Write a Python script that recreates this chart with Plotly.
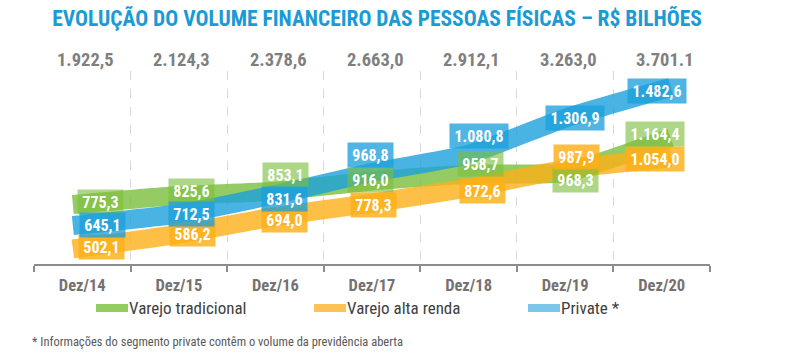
import plotly.graph_objects as go

# ---- data ----
categories = ["Dez/14", "Dez/15", "Dez/16", "Dez/17", "Dez/18", "Dez/19", "Dez/20"]
varejo_tradicional = [775.3, 825.6, 853.1, 916.0, 958.7, 968.3, 1164.4]
varejo_alta_renda = [502.1, 586.2, 694.0, 778.3, 872.6, 987.9, 1054.0]
private = [645.1, 712.5, 831.6, 968.8, 1080.8, 1306.9, 1482.6]
totais = ["1.922,5", "2.124,3", "2.378,6", "2.663,0", "2.912,1", "3.263,0", "3.701.1"]
series_names = ["Varejo tradicional", "Varejo alta renda", "Private *"]

def fmt(v):
    s = f"{v:,.1f}"
    return s.replace(",", "X").replace(".", ",").replace("X", ".")

W, H = 810, 355
L, R, T, B = 34, 100, 71, 91
PW, PH = W - L - R, H - T - B

def px2x(px):
    return (px - L) / PW

def px2y(py):
    return (H - B - py) / PH

FONT = "Liberation Sans Narrow, Roboto Condensed, Roboto, sans-serif"

line_cols = ["rgba(122,190,60,0.8)", "rgba(252,175,23,0.8)", "rgba(28,160,220,0.8)"]
box_cols = ["rgba(122,190,60,0.62)", "rgba(252,175,23,0.82)", "rgba(28,160,220,0.78)"]
legend_cols = ["#92CD62", "#FDC256", "#7DC6EB"]

# label offsets (px right, px up) per series/point
offsets = [
    [(18, 2), (12.5, 5), (10, 16.5), (-2, 1.5), (11.5, 10), (10, -7), (-7, 7)],
    [(19.5, 1), (13.5, 0), (9.5, -3), (1, -1.5), (13.5, -3.5), (11, 12.5), (-7, 0)],
    [(20, 0), (12.5, 0), (9, -4.5), (-2, 17.6), (10.5, 18.5), (9.5, 0), (-4.5, -1.5)],
]

all_series = [varejo_tradicional, varejo_alta_renda, private]

fig = go.Figure()
for name, vals, col in zip(series_names, all_series, line_cols):
    fig.add_trace(go.Scatter(
        x=categories, y=vals, name=name, mode="lines",
        line=dict(color=col, width=19, shape="spline", smoothing=0.5),
        hoverinfo="skip", showlegend=False,
    ))

annotations = []
for si, vals in enumerate(all_series):
    for i, v in enumerate(vals):
        dx, up = offsets[si][i]
        txt = fmt(v)
        annotations.append(dict(
            x=categories[i], y=v, xref="x", yref="y", text=txt, showarrow=False,
            xshift=dx, yshift=up, bgcolor=box_cols[si], borderpad=3,
            width=39 if len(txt) <= 5 else 52, height=18,
            font=dict(family=FONT, size=16, color="white", weight="bold"),
        ))

# totals row
for i, t in enumerate(totais):
    annotations.append(dict(
        x=categories[i], y=px2y(60), xref="x", yref="paper", text=t, showarrow=False,
        yanchor="middle", xshift=3,
        font=dict(family=FONT, size=18.5, color="#7F7F7F", weight="bold"),
    ))

# manual legend
leg_x = [96, 314, 528]
shapes = []
for lx, name, col in zip(leg_x, series_names, legend_cols):
    shapes.append(dict(type="rect", xref="paper", yref="paper",
                       x0=px2x(lx), x1=px2x(lx + 32), y0=px2y(312), y1=px2y(304),
                       fillcolor=col, line=dict(width=0)))
    annotations.append(dict(x=px2x(lx + 31), y=px2y(308), xref="paper", yref="paper",
                            text=name, showarrow=False, xanchor="left", yanchor="middle",
                            font=dict(family=FONT, size=17, color="#404040")))

# footnote
annotations.append(dict(x=px2x(30), y=px2y(341), xref="paper", yref="paper",
                        text="* Informações do segmento private contêm o volume da previdência aberta",
                        showarrow=False, xanchor="left", yanchor="middle",
                        font=dict(family=FONT, size=12.5, color="#595959")))

fig.update_layout(
    width=W, height=H,
    margin=dict(l=L, r=R, t=T, b=B),
    paper_bgcolor="white", plot_bgcolor="white",
    title=dict(text="EVOLUÇÃO DO VOLUME FINANCEIRO DAS PESSOAS FÍSICAS – R$ BILHÕES",
               x=377 / W, xanchor="center", y=1 - 18 / H, yanchor="middle",
               font=dict(family=FONT, size=21.5, color="#1B9AD6", weight="bold")),
    xaxis=dict(type="category", range=[-0.5, 6.5], tickson="boundaries",
               showline=True, linecolor="#8C8C8C", linewidth=1.5,
               ticks="outside", ticklen=6, tickcolor="#8C8C8C", tickwidth=1.5,
               showgrid=True, gridcolor="#D9D9D9", griddash="dash", gridwidth=1,
               tickfont=dict(family=FONT, size=16.5, color="#767171", weight="bold"),
               ticklabelstandoff=5, fixedrange=True),
    yaxis=dict(range=[400, 1600], visible=False, showgrid=False, zeroline=False, fixedrange=True),
    annotations=annotations, shapes=shapes, showlegend=False,
)

fig.write_html("out.html", config={"displayModeBar": False},
               post_script="document.body.style.margin='0';document.querySelectorAll('.scatterlayer path.js-line').forEach(function(p){p.style.strokeLinecap='square';});")
